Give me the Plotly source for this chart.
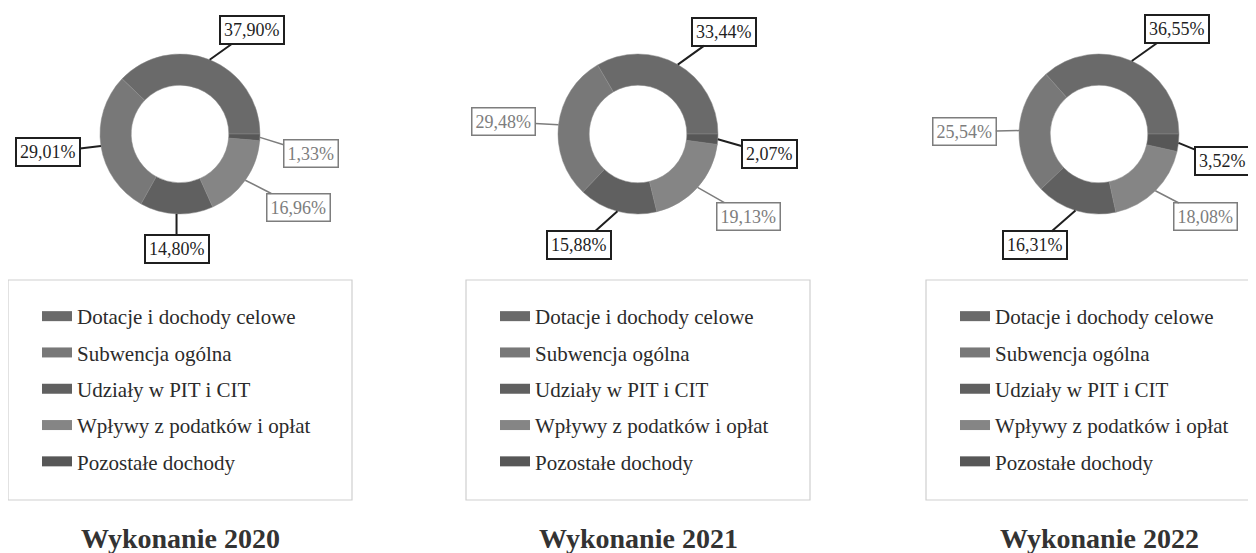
import math

import plotly.graph_objects as go

# -- Data ---------------------------------------------------------------------

CATEGORIES = [
    "Dotacje i dochody celowe",
    "Subwencja ogólna",
    "Udziały w PIT i CIT",
    "Wpływy z podatków i opłat",
    "Pozostałe dochody",
]
YEARS = ["Wykonanie 2020", "Wykonanie 2021", "Wykonanie 2022"]
SHARES_2020 = [37.90, 29.01, 14.80, 16.96, 1.33]
SHARES_2021 = [33.44, 29.48, 15.88, 19.13, 2.07]
SHARES_2022 = [36.55, 25.54, 16.31, 18.08, 3.52]
SHARES = [SHARES_2020, SHARES_2021, SHARES_2022]

# -- Styling ------------------------------------------------------------------

PAGE_MARGIN = 8  # browser body margin around the figure div
W, H = 1256 - PAGE_MARGIN, 553 - PAGE_MARGIN
FONT = "Liberation Serif, Times New Roman, serif"
TEXT = "#2b2b2b"
SLICE_COLORS = ["#6a6a6a", "#787878", "#606060", "#858585", "#575757"]

# positions below are in page pixels (top-left origin)
CENTERS_X = [180, 638, 1099]
CENTER_Y = 134
RADIUS = 80
LEGEND_BOX = [(8, 352), (466, 810), (926, 1250)]
LEGEND_TOP, LEGEND_BOTTOM = 280, 500
TITLE_Y = 538

# label box offset (px) from the slice edge point, per year / slice
LABEL_OFFSETS = [
    [(42, -30), (-53, 6), (0, 35), (53, 27), (51, 16)],
    [(46, -33), (-55, -3), (-38, 34), (51, 29), (52, 15)],
    [(45, -32), (-55, 1), (-40, 35), (50, 26), (44, 18)],
]
# d = black frame/text, l = grey frame/text (as in the scan)
LABEL_TONES = [
    ["d", "d", "d", "l", "l"],
    ["d", "l", "d", "l", "d"],
    ["d", "l", "d", "l", "d"],
]
TONE = {"d": ("#1f1f1f", 2), "l": ("#7d7d7d", 1.5)}


def px_x(x):
    return (x - PAGE_MARGIN) / W


def px_y(y):
    return 1 - (y - PAGE_MARGIN) / H


def fmt_pct(v):
    return f"{v:.2f}".replace(".", ",") + "%"


fig = go.Figure()
annotations = []
shapes = []

for k, (values, title) in enumerate(zip(SHARES, YEARS)):
    cx = CENTERS_X[k]
    total = sum(values)
    fig.add_trace(
        go.Pie(
            labels=CATEGORIES,
            values=values,
            hole=0.61,
            sort=False,
            direction="counterclockwise",
            # plotly puts the first ccw slice clockwise of `rotation`;
            # shift so the first slice starts at 3 o'clock
            rotation=90 - 360 * values[0] / total,
            textinfo="none",
            marker={"colors": SLICE_COLORS, "line": {"color": "#8a8a8a", "width": 0.5}},
            domain={
                "x": [px_x(cx - RADIUS), px_x(cx + RADIUS)],
                "y": [px_y(CENTER_Y + RADIUS), px_y(CENTER_Y - RADIUS)],
            },
            showlegend=False,
            hovertemplate="%{label}: %{value:.2f}%<extra></extra>",
        )
    )

    # outside labels with leader lines, anchored at each slice's mid-angle
    cum = 0.0
    for i, v in enumerate(values):
        mid = (cum + v / 2) / total
        cum += v
        theta = 2 * math.pi * mid
        px = cx + RADIUS * math.cos(theta)
        py = CENTER_Y - RADIUS * math.sin(theta)
        color, lw = TONE[LABEL_TONES[k][i]]
        dx, dy = LABEL_OFFSETS[k][i]
        annotations.append(
            dict(
                x=px_x(px),
                y=px_y(py),
                xref="paper",
                yref="paper",
                ax=dx,
                ay=dy,
                text=fmt_pct(v),
                showarrow=True,
                arrowhead=0,
                arrowwidth=lw,
                arrowcolor=color,
                bordercolor=color,
                borderwidth=lw,
                borderpad=3,
                bgcolor="white",
                font={"family": FONT, "size": 18, "color": color},
            )
        )

    # legend (one per chart) built from proxy line entries
    lg = "legend" if k == 0 else f"legend{k + 1}"
    for i, cat in enumerate(CATEGORIES):
        fig.add_trace(
            go.Scatter(
                x=[None],
                y=[None],
                mode="lines",
                line={"color": SLICE_COLORS[i], "width": 10},
                name=cat,
                legend=lg,
                legendgroup=f"{lg}-{i}",
                hoverinfo="skip",
            )
        )

    left, right = LEGEND_BOX[k]
    shapes.append(
        dict(
            type="rect",
            xref="paper",
            yref="paper",
            x0=px_x(left),
            x1=px_x(right),
            y0=px_y(LEGEND_BOTTOM),
            y1=px_y(LEGEND_TOP),
            line={"color": "#cfcfcf", "width": 1.2},
            fillcolor="rgba(0,0,0,0)",
            layer="below",
        )
    )

    annotations.append(
        dict(
            x=px_x(cx),
            y=px_y(TITLE_Y),
            xref="paper",
            yref="paper",
            xanchor="center",
            yanchor="middle",
            text=f"<b>{title}</b>",
            showarrow=False,
            font={"family": FONT, "size": 28, "color": "#333333"},
        )
    )

legend_style = dict(
    yanchor="top",
    y=px_y(LEGEND_TOP + 16),
    xanchor="left",
    bgcolor="rgba(0,0,0,0)",
    borderwidth=0,
    tracegroupgap=6,
    font={"family": FONT, "size": 21, "color": TEXT},
)

fig.update_layout(
    width=W,
    height=H,
    margin={"l": 0, "r": 0, "t": 0, "b": 0},
    paper_bgcolor="white",
    plot_bgcolor="white",
    font={"family": FONT, "color": TEXT},
    xaxis={"visible": False},
    yaxis={"visible": False},
    legend={**legend_style, "x": px_x(LEGEND_BOX[0][0] + 29)},
    legend2={**legend_style, "x": px_x(LEGEND_BOX[1][0] + 29)},
    legend3={**legend_style, "x": px_x(LEGEND_BOX[2][0] + 29)},
    annotations=annotations,
    shapes=shapes,
)

fig.write_html("out.html")
